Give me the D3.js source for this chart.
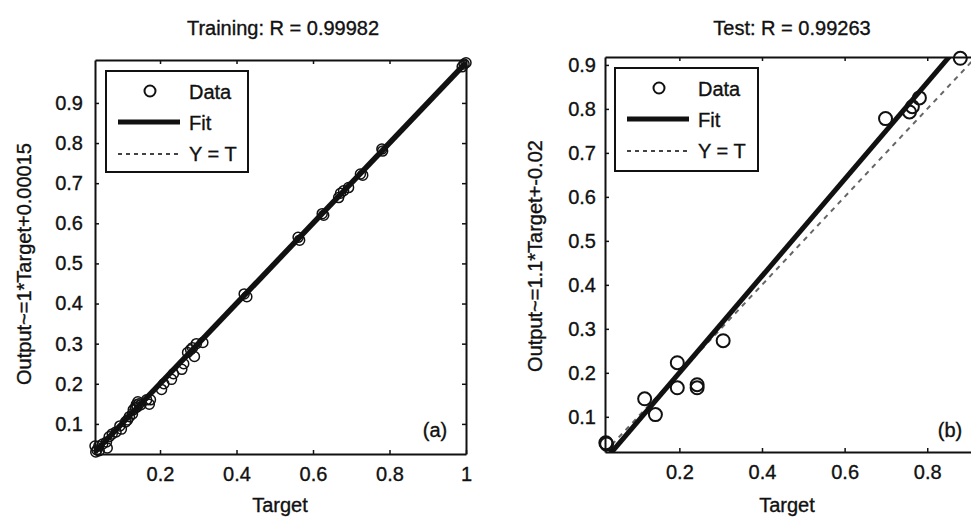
<!DOCTYPE html>
<html>
<head>
<meta charset="utf-8">
<script src="https://cdn.jsdelivr.net/npm/d3@7"></script>
<style>
body { margin: 0; background: #fff; }
svg { display: block; font-family: "Liberation Sans", Arial, sans-serif; }
svg text { stroke: #111; stroke-width: 0.35; }
.tick text { font-size: 20px; fill: #111; }
.tick line, .domain { stroke: #111; }
</style>
</head>
<body>
<svg width="971" height="518"></svg>
<script>
// training set (target, output)
var trainTarget = [1.0, 0.99, 0.995, 0.782, 0.78, 0.724, 0.73, 0.693, 0.68, 0.667, 0.672, 0.624, 0.628,
	0.561, 0.565, 0.427, 0.42, 0.312, 0.29, 0.272, 0.295, 0.285, 0.28, 0.257, 0.262, 0.23, 0.235,
	0.204, 0.21, 0.172, 0.175, 0.165, 0.15, 0.145, 0.14, 0.135, 0.13, 0.138, 0.142, 0.128, 0.12,
	0.115, 0.11, 0.099, 0.095, 0.085, 0.075, 0.067, 0.06, 0.062, 0.05, 0.041, 0.04, 0.03, 0.035, 0.032];
var trainOutput = [1.0, 0.99, 0.997, 0.78, 0.785, 0.723, 0.72, 0.689, 0.681, 0.664, 0.675, 0.624, 0.62,
	0.565, 0.558, 0.417, 0.424, 0.303, 0.268, 0.278, 0.3, 0.29, 0.285, 0.236, 0.25, 0.211, 0.225,
	0.186, 0.2, 0.149, 0.16, 0.16, 0.148, 0.15, 0.142, 0.14, 0.135, 0.148, 0.155, 0.125, 0.118,
	0.11, 0.105, 0.087, 0.095, 0.08, 0.075, 0.068, 0.055, 0.04, 0.05, 0.033, 0.045, 0.045, 0.035, 0.03];

// test set (target, output)
var testTarget = [0.88, 0.699, 0.757, 0.764, 0.781, 0.306, 0.243, 0.243, 0.195, 0.195, 0.142, 0.116, 0.022, 0.024];
var testOutput = [0.915, 0.778, 0.793, 0.805, 0.825, 0.273, 0.173, 0.166, 0.223, 0.166, 0.105, 0.141, 0.041, 0.038];

var trainXTicks = [0.2, 0.4, 0.6, 0.8, 1];
var trainYTicks = [0.1, 0.2, 0.3, 0.4, 0.5, 0.6, 0.7, 0.8, 0.9];
var testXTicks = [0.2, 0.4, 0.6, 0.8];
var testYTicks = [0.1, 0.2, 0.3, 0.4, 0.5, 0.6, 0.7, 0.8, 0.9];

// fit: output ~= slope*target + intercept
var trainFit = [1, 0.00015];
var testFit = [1.1, -0.02];

var svg = d3.select("svg");

var panels = [
	{
		id: "a", target: trainTarget, output: trainOutput, fit: trainFit,
		xTicks: trainXTicks, yTicks: trainYTicks,
		xDomain: [0.03, 1.0], yDomain: [0.025, 1.007],
		left: 95, right: 466, top: 60, bottom: 454, yPad: 12,
		title: "Training: R = 0.99982", titleX: 283,
		yLabel: "Output~=1*Target+0.00015", yLabelX: 24, yLabelY: 264,
		xLabelX: 280, tag: "(a)", tagX: 435,
		legend: [106, 71, 142, 101], r: 5, markerWidth: 1.5, fitWidth: 5.5
	},
	{
		id: "b", target: testTarget, output: testOutput, fit: testFit,
		xTicks: testXTicks, yTicks: testYTicks,
		xDomain: [0.02, 0.918], yDomain: [0.02, 0.918],
		left: 605, right: 976, top: 57, bottom: 452, yPad: 9,
		title: "Test: R = 0.99263", titleX: 792,
		yLabel: "Output~=1.1*Target+-0.02", yLabelX: 535, yLabelY: 256,
		xLabelX: 787, tag: "(b)", tagX: 950,
		legend: [615, 68, 143, 103], r: 6.5, markerWidth: 2, fitWidth: 5
	}
];

panels.forEach(drawPanel);

function drawPanel(p) {
	var x = d3.scaleLinear().domain(p.xDomain).range([p.left, p.right]);
	var y = d3.scaleLinear().domain(p.yDomain).range([p.bottom, p.top]);
	var g = svg.append("g");

	g.append("clipPath").attr("id", "clip-" + p.id)
		.append("rect")
		.attr("x", p.left).attr("y", p.top)
		.attr("width", p.right - p.left).attr("height", p.bottom - p.top);

	// lines are clipped to the box, the markers are not
	var lines = g.append("g").attr("clip-path", "url(#clip-" + p.id + ")");
	var x0 = p.xDomain[0], x1 = p.xDomain[1];

	// Y = T
	lines.append("line")
		.attr("x1", x(x0)).attr("y1", y(x0))
		.attr("x2", x(x1)).attr("y2", y(x1))
		.attr("stroke", "#666")
		.attr("stroke-width", 2)
		.attr("stroke-dasharray", "5,5");

	// fit line
	lines.append("line")
		.attr("x1", x(x0)).attr("y1", y(p.fit[0] * x0 + p.fit[1]))
		.attr("x2", x(x1)).attr("y2", y(p.fit[0] * x1 + p.fit[1]))
		.attr("stroke", "#111")
		.attr("stroke-width", p.fitWidth);

	// data circles
	g.append("g").selectAll("circle")
		.data(p.target.map(function (t, i) { return [t, p.output[i]]; }))
		.enter()
		.append("circle")
		.attr("cx", function (d) { return x(d[0]); })
		.attr("cy", function (d) { return y(d[1]); })
		.attr("r", p.r)
		.attr("fill", "none")
		.attr("stroke", "#111")
		.attr("stroke-width", p.markerWidth);

	// axes, ticks pointing inward on all four sides
	g.append("g")
		.attr("transform", "translate(0," + p.bottom + ")")
		.call(d3.axisBottom(x).tickValues(p.xTicks).tickSize(-4).tickSizeOuter(0).tickPadding(13).tickFormat(String));
	g.append("g")
		.attr("transform", "translate(0," + p.top + ")")
		.call(d3.axisTop(x).tickValues(p.xTicks).tickSize(-4).tickSizeOuter(0).tickFormat(""));
	g.append("g")
		.attr("transform", "translate(" + p.left + ",0)")
		.call(d3.axisLeft(y).tickValues(p.yTicks).tickSize(-4).tickSizeOuter(0).tickPadding(p.yPad).tickFormat(String));
	g.append("g")
		.attr("transform", "translate(" + p.right + ",0)")
		.call(d3.axisRight(y).tickValues(p.yTicks).tickSize(-4).tickSizeOuter(0).tickFormat(""));
	g.selectAll(".domain").attr("stroke-width", 2);
	g.selectAll(".tick line").attr("stroke-width", 1.5);

	// title and labels
	g.append("text")
		.attr("x", p.titleX).attr("y", 35)
		.attr("text-anchor", "middle")
		.attr("font-size", 20)
		.attr("fill", "#111")
		.text(p.title);
	g.append("text")
		.attr("x", p.xLabelX).attr("y", 512)
		.attr("text-anchor", "middle")
		.attr("font-size", 20)
		.attr("fill", "#111")
		.text("Target");
	g.append("text")
		.attr("transform", "translate(" + p.yLabelX + "," + p.yLabelY + ") rotate(-90)")
		.attr("dy", "0.35em")
		.attr("text-anchor", "middle")
		.attr("font-size", 20)
		.attr("fill", "#111")
		.text(p.yLabel);
	g.append("text")
		.attr("x", p.tagX).attr("y", 437)
		.attr("text-anchor", "middle")
		.attr("font-size", 20)
		.attr("fill", "#111")
		.text(p.tag);

	// legend
	var L = p.legend;
	var leg = g.append("g").attr("transform", "translate(" + L[0] + "," + L[1] + ")");
	leg.append("rect")
		.attr("width", L[2]).attr("height", L[3])
		.attr("fill", "#fff").attr("stroke", "#111").attr("stroke-width", 2);
	leg.append("circle")
		.attr("cx", 44).attr("cy", 20).attr("r", 5.5)
		.attr("fill", "none").attr("stroke", "#111").attr("stroke-width", 2);
	leg.append("line")
		.attr("x1", 12).attr("x2", 74).attr("y1", 51).attr("y2", 51)
		.attr("stroke", "#111").attr("stroke-width", 5);
	leg.append("line")
		.attr("x1", 12).attr("x2", 74).attr("y1", 83).attr("y2", 83)
		.attr("stroke", "#444").attr("stroke-width", 1.8).attr("stroke-dasharray", "4,4");
	leg.selectAll("text.lab")
		.data([["Data", 28], ["Fit", 59], ["Y = T", 90]])
		.enter()
		.append("text")
		.attr("class", "lab")
		.attr("x", 83).attr("y", function (d) { return d[1]; })
		.attr("font-size", 20)
		.attr("fill", "#111")
		.text(function (d) { return d[0]; });
}
</script>
</body>
</html>
